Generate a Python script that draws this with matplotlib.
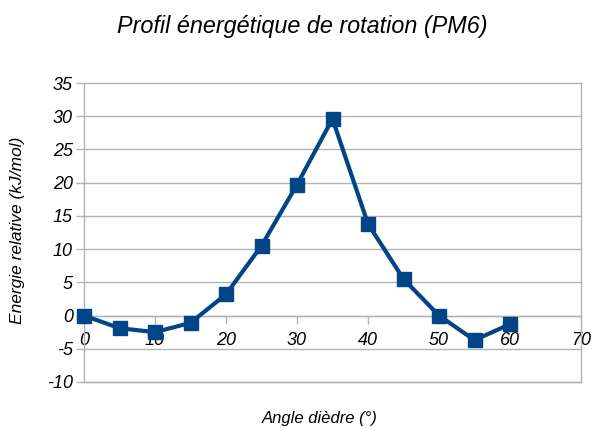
import matplotlib
matplotlib.use("Agg")
import matplotlib.pyplot as plt
from matplotlib.ticker import MultipleLocator

angles = [0, 5, 10, 15, 20, 25, 30, 35, 40, 45, 50, 55, 60]
energies = [0.0, -1.9, -2.5, -1.1, 3.2, 10.5, 19.7, 29.6, 13.8, 5.5, 0.0, -3.7, -1.3]

title = "Profil énergétique de rotation (PM6)"
xlabel = "Angle dièdre (°)"
ylabel = "Energie relative (kJ/mol)"

line_color = "#004586"
grid_color = "#b3b3b3"

plt.rcParams["font.family"] = ["Liberation Sans", "DejaVu Sans"]
plt.rcParams["font.style"] = "italic"
plt.rcParams["axes.unicode_minus"] = False

fig = plt.figure(figsize=(5.95, 4.28), dpi=100)
ax = fig.add_axes([84 / 595, 1 - 382 / 428, (581 - 84) / 595, (382 - 83) / 428])

ax.set_xlim(0, 70)
ax.set_ylim(-10, 35)
ax.xaxis.set_major_locator(MultipleLocator(10))
ax.yaxis.set_major_locator(MultipleLocator(5))

ax.yaxis.grid(True, color=grid_color, linewidth=1.0)
ax.set_axisbelow(True)
for gl in ax.yaxis.get_gridlines():
    gl.set_clip_on(False)

for side in ["left", "right", "top", "bottom"]:
    ax.spines[side].set_color(grid_color)
    ax.spines[side].set_linewidth(1.0)
ax.spines["top"].set_visible(False)
ax.spines["bottom"].set_position(("data", 0))
ax.axhline(-10, color=grid_color, linewidth=1.0, clip_on=False, zorder=0)

ax.tick_params(axis="both", colors=grid_color, labelcolor="black",
               labelsize=13, length=6, width=1.0, direction="out")
ax.tick_params(axis="x", pad=6)
ax.tick_params(axis="y", pad=2)
for lab in ax.get_xticklabels() + ax.get_yticklabels():
    lab.set_fontstyle("italic")

ax.plot(angles, energies, color=line_color, linewidth=3, marker="s",
        markersize=10, markerfacecolor=line_color, markeredgecolor=line_color,
        clip_on=False, zorder=3)

fig.text(302 / 595, 1 - 26 / 428, title, ha="center", va="center",
         fontsize=16.8, fontstyle="italic")
fig.text(320 / 595, 1 - 418 / 428, xlabel, ha="center", va="center",
         fontsize=12, fontstyle="italic")
fig.text(18 / 595, 1 - 230 / 428, ylabel, ha="center", va="center",
         rotation=90, fontsize=12.5, fontstyle="italic")

fig.savefig("out.png", dpi=100)
